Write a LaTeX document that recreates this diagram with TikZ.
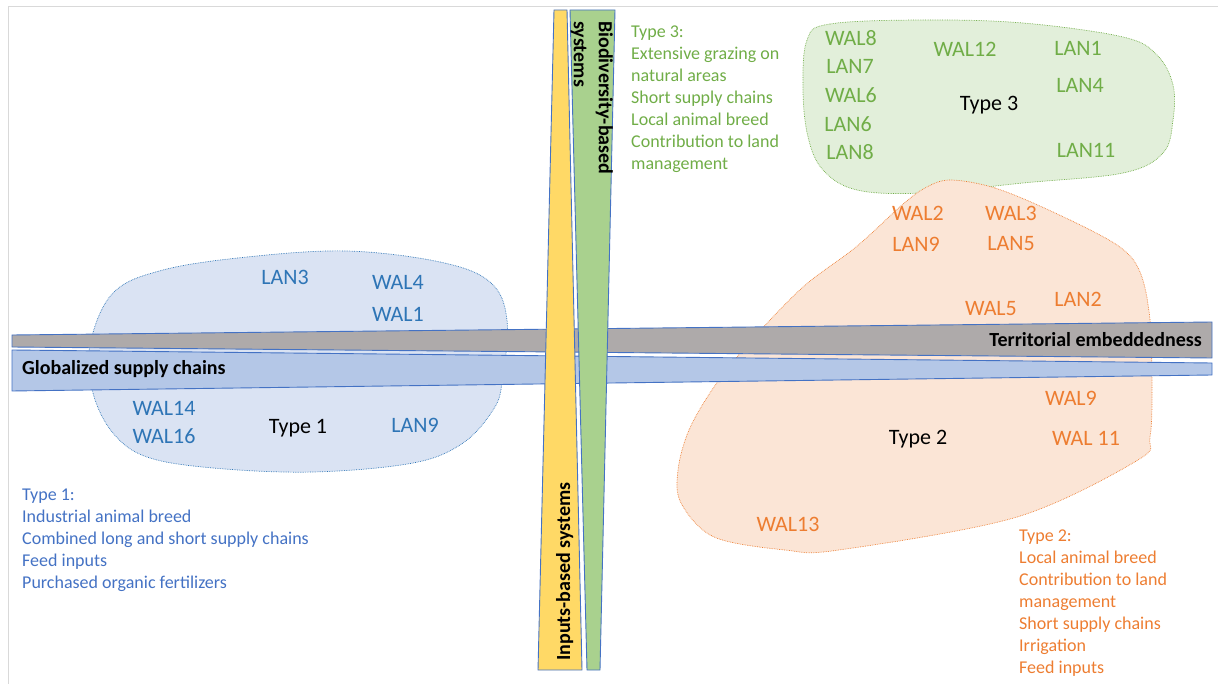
\documentclass[tikz,border=0pt]{standalone}
\usepackage{fontspec}
\setmainfont{Carlito}
\usepackage{tikz}
\usetikzlibrary{positioning}
\definecolor{codeblue}{RGB}{46,117,182}
\definecolor{listblue}{RGB}{68,114,196}
\definecolor{codegreen}{RGB}{112,173,71}
\definecolor{codeorange}{RGB}{237,125,49}
\definecolor{blobblue}{RGB}{218,227,243}
\definecolor{blobgreen}{RGB}{226,239,218}
\definecolor{bloborange}{RGB}{251,229,214}
\definecolor{bargray}{RGB}{174,170,170}
\definecolor{barblue}{RGB}{180,199,231}
\definecolor{baryellow}{RGB}{255,217,102}
\definecolor{bargreen}{RGB}{169,209,142}
\definecolor{barline}{RGB}{68,114,196}
\definecolor{framegray}{RGB}{217,217,217}

\begin{document}
\begin{tikzpicture}[x=1pt, y=-1pt,
      blob/.style={densely dotted, line width=0.7pt},
      bar/.style={draw=barline, line width=0.9pt},
      bartext/.style={font=\fontsize{20}{25}\selectfont\bfseries, inner sep=0},
      code/.style={font=\fontsize{22}{26}\selectfont, inner sep=0, anchor=base},
      list/.style={font=\fontsize{18}{22}\selectfont, align=left, inner sep=0,
                   anchor=north west},
      node distance=14pt
    ]
    \useasboundingbox (0,0) rectangle (1218,684);
    \draw[framegray, line width=1pt] (8,684) -- (8,7) -- (1218,7);

    % clusters
    \draw[blob, draw=codeblue, fill=blobblue] plot[smooth cycle, tension=0.6] coordinates
      {(90,345) (113,293) (163,270) (247,257) (347,251) (440,262) (490,282)
       (507,320) (502,383) (493,410) (463,443) (413,463) (313,472) (213,468)
       (147,457) (113,433) (93,393)};
    \draw[blob, draw=codegreen, fill=blobgreen] plot[smooth cycle, tension=0.6] coordinates
      {(807,40) (830,24) (923,20) (1023,23) (1123,37) (1157,55) (1173,85)
       (1173,120) (1163,153) (1123,173) (1023,183) (923,193) (857,190)
       (823,170) (808,137) (803,90)};
    \draw[blob, draw=codeorange, fill=bloborange] plot[smooth cycle, tension=0.55] coordinates
      {(950,180) (995,188) (1053,212) (1117,245) (1140,272) (1150,320)
       (1152,387) (1150,437) (1138,460) (1017,517) (839,550) (785,550)
       (714,537) (681,503) (678,470) (689,430) (714,387) (749,343) (803,287)
       (856,247) (902,205) (925,188)};

    % axes
    \draw[bar, fill=bargray] (12,335) -- (1212,322) -- (1212,358) -- (12,347) -- cycle;
    \draw[bar, fill=barblue] (12,350) -- (1212,363) -- (1212,375) -- (12,391) -- cycle;
    \draw[bar, fill=baryellow] (554,10) -- (567,10) -- (582,670) -- (538,670) -- cycle;
    \draw[bar, fill=bargreen] (570,10) -- (615,10) -- (600,670) -- (587,670) -- cycle;

    \node[bartext, anchor=base east] (terr) at (1202,347) {Territorial embeddedness};
    \node[bartext, anchor=base west] (glob) at (22,374) {Globalized supply chains};
    \node[bartext, rotate=-90, align=left, anchor=north west] (bio) at (613,21)
      {Biodiversity-based\\systems};
    \node[bartext, rotate=90, anchor=base west] (inp) at (570,661) {Inputs-based systems};

    % type 1
    \node[code, text=codeblue] (lan3) at (285,285) {LAN3};
    \node[code, text=codeblue] (wal4) at (398,290) {WAL4};
    \node[code, text=codeblue] (wal1) at (398,322) {WAL1};
    \node[code, text=codeblue] (wal14) at (164,415) {WAL14};
    \node[code, text=codeblue] (wal16) at (164,443) {WAL16};
    \node[code] (type1) at (298,433) {Type 1};
    \node[code, text=codeblue] (lan9a) at (415,432) {LAN9};

    % type 3
    \node[code, text=codegreen] (wal8) at (851,46) {WAL8};
    \node[code, text=codegreen] (lan7) at (850,74) {LAN7};
    \node[code, text=codegreen] (wal6) at (851,103) {WAL6};
    \node[code, text=codegreen] (lan6) at (848,132) {LAN6};
    \node[code, text=codegreen] (lan8) at (850,160) {LAN8};
    \node[code, text=codegreen] (wal12) at (965,57) {WAL12};
    \node[code] (type3) at (989,111) {Type 3};
    \node[code, text=codegreen] (lan1) at (1078,56) {LAN1};
    \node[code, text=codegreen] (lan4) at (1080,93) {LAN4};
    \node[code, text=codegreen] (lan11) at (1086,158) {LAN11};

    % type 2
    \node[code, text=codeorange] (wal2) at (918,221) {WAL2};
    \node[code, text=codeorange] (wal3) at (1011,221) {WAL3};
    \node[code, text=codeorange] (lan9b) at (916,252) {LAN9};
    \node[code, text=codeorange] (lan5) at (1011,251) {LAN5};
    \node[code, text=codeorange] (wal5) at (991,316) {WAL5};
    \node[code, text=codeorange] (lan2) at (1078,307) {LAN2};
    \node[code, text=codeorange] (wal9) at (1071,406) {WAL9};
    \node[code, text=codeorange] (wal11) at (1086,445) {WAL 11};
    \node[code] (type2) at (918,444) {Type 2};
    \node[code, text=codeorange] (wal13) at (788,531) {WAL13};

    % descriptions
    \node[list, text=listblue] (list1) at (22,489)
      {Type 1:\\Industrial animal breed\\Combined long and short supply chains\\
       Feed inputs\\Purchased organic fertilizers};
    \node[list, text=codegreen] (list3) at (631,26)
      {Type 3:\\Extensive grazing on\\natural areas\\Short supply chains\\
       Local animal breed\\Contribution to land\\management};
    \node[list, text=codeorange] (list2) at (1019,530)
      {Type 2:\\Local animal breed\\Contribution to land\\management\\
       Short supply chains\\Irrigation\\Feed inputs};
  \end{tikzpicture}
\end{document}
